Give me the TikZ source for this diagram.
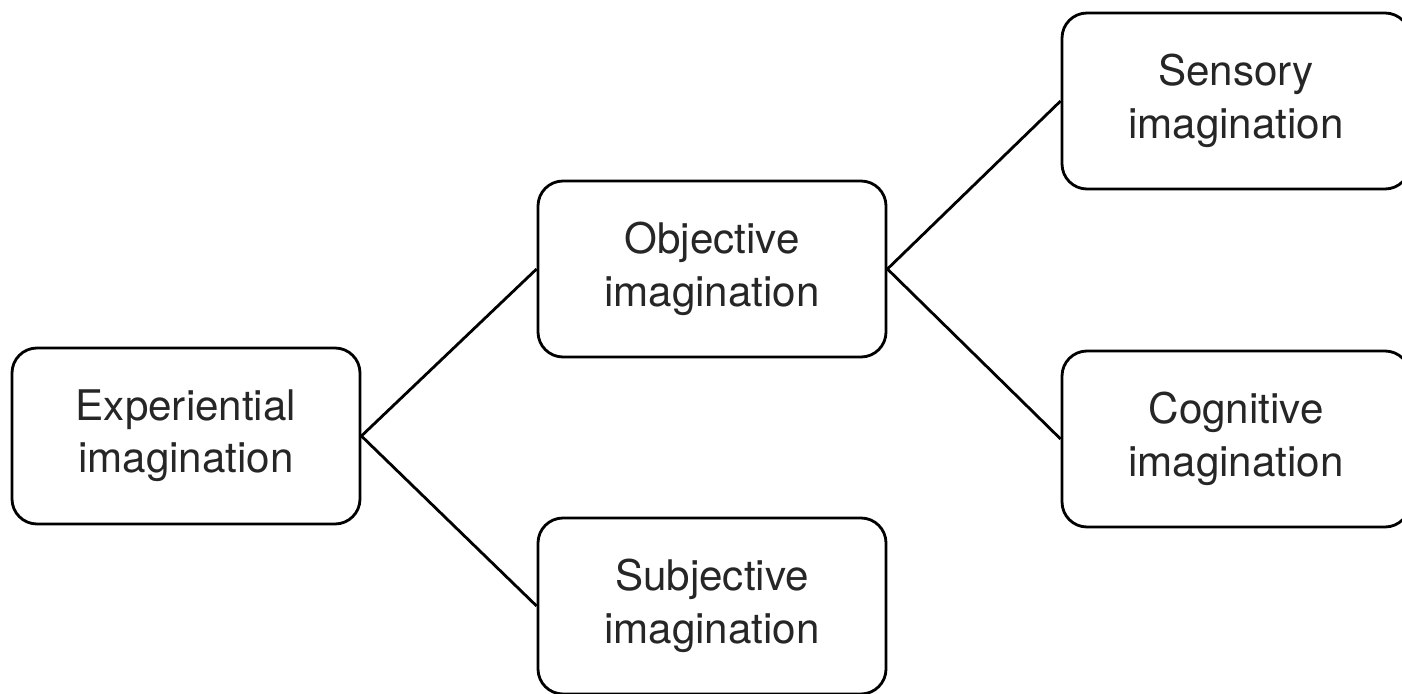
\documentclass[tikz,border=0pt]{standalone}
\usepackage{fontspec}
\setmainfont{TeX Gyre Heros}
\begin{document}
\begin{tikzpicture}[
    imgbox/.style={draw, line width=1.6pt, rounded corners=0.5cm,
      minimum width=6.96cm, minimum height=3.52cm, align=center,
      font=\fontsize{24}{29.8}\selectfont, text=black!85},
    branch/.style={line width=1.6pt}
  ]
    \useasboundingbox (0,0) rectangle (28.04,-13.86);
    % root and first split
    \node[imgbox] (exper) at (3.72,-8.72) {Experiential\\imagination};
    \node[imgbox] (objec) at (14.24,-5.38) {Objective\\imagination};
    \node[imgbox] (subje) at (14.24,-12.12) {Subjective\\imagination};
    % second split, cut off at the right edge
    \node[imgbox] (senso) at (24.72,-2.02) {Sensory\\imagination};
    \node[imgbox] (cogni) at (24.72,-8.78) {Cognitive\\imagination};
    \draw[branch] (objec.west) -- (exper.east) -- (subje.west);
    \draw[branch] (senso.west) -- (objec.east) -- (cogni.west);
  \end{tikzpicture}
\end{document}
